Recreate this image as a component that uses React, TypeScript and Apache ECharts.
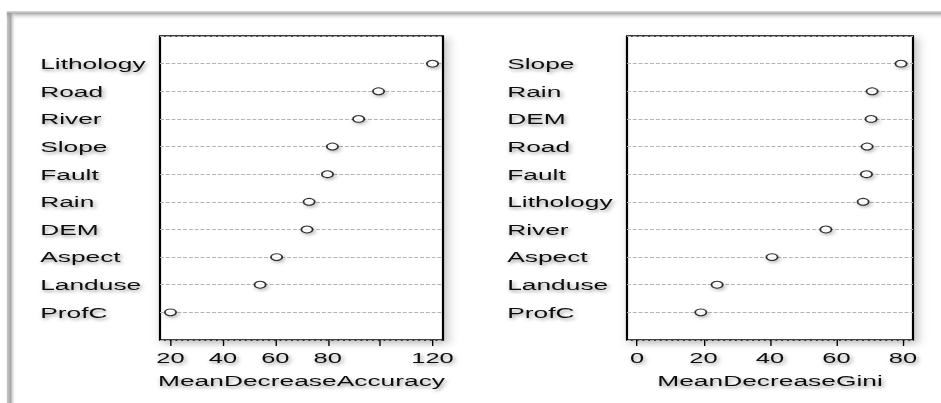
import React, { useEffect, useRef } from "react";
import * as echarts from "echarts";

// Mean decrease accuracy (top to bottom)
const accCategories = ["Lithology", "Road", "River", "Slope", "Fault", "Rain", "DEM", "Aspect", "Landuse", "ProfC"];
const accValues = [120, 99.4, 91.8, 81.8, 79.9, 72.9, 72.1, 60.5, 54.2, 20];
const accTicks = [20, 40, 60, 80, 100, 120];
const accTickLabels = [20, 40, 60, 80, 120];

// Mean decrease Gini (top to bottom)
const giniCategories = ["Slope", "Rain", "DEM", "Road", "Fault", "Lithology", "River", "Aspect", "Landuse", "ProfC"];
const giniValues = [79.4, 70.7, 70.4, 69.2, 69.0, 68.0, 56.8, 40.6, 24.1, 19.2];
const giniTicks = [0, 20, 40, 60, 80];
const giniTickLabels = [0, 20, 40, 60, 80];

const W = 941;
const H = 403;
const S = 1.7; // horizontal stretch of the original picture
const IW = W / S;

const FONT = "'Liberation Sans', Arial, sans-serif";
const shadowText = {
  textShadowColor: "rgba(0,0,0,0.4)",
  textShadowBlur: 3,
  textShadowOffsetX: 1,
  textShadowOffsetY: 2,
};

export default function App() {
  const ref = useRef<HTMLDivElement>(null);
  useEffect(() => {
    if (!ref.current) return;
    const chart = echarts.init(ref.current, null, { renderer: "svg" });
    const n = accCategories.length;
    const yAxisFor = (idx: number, cats: string[]) => ({
      type: "value",
      gridIndex: idx,
      min: 0,
      max: n + 1,
      interval: 1,
      axisLine: { show: false },
      axisTick: { show: false },
      splitLine: {
        show: true,
        lineStyle: { color: "#b4b4b4", width: 1, type: [2.3, 1.1] },
      },
      axisLabel: {
        align: "left",
        margin: 70.5,
        fontSize: 15.5,
        fontFamily: FONT,
        color: "#111",
        ...shadowText,
        formatter: (v: number) => (v >= 1 && v <= n ? cats[n - v] : ""),
      },
    });
    const xAxisFor = (idx: number, min: number, max: number, ticks: number[], labels: number[], name: string) => ({
      type: "value",
      gridIndex: idx,
      min,
      max,
      axisLine: { show: false },
      splitLine: { show: false },
      axisTick: {
        show: true,
        length: 6,
        customValues: ticks,
        lineStyle: { color: "#000", width: 0.8 },
      },
      axisLabel: {
        customValues: labels,
        margin: 10,
        fontSize: 15,
        fontFamily: FONT,
        color: "#111",
        ...shadowText,
      },
      name,
      nameLocation: "middle",
      nameGap: 33,
      nameTextStyle: { fontSize: 15.5, fontFamily: FONT, color: "#111", ...shadowText },
    });
    const gridStyle = {
      show: true,
      top: 36,
      height: 304,
      backgroundColor: "#fff",
      borderColor: "#000",
      borderWidth: 1.3,
      shadowColor: "rgba(0,0,0,0.25)",
      shadowBlur: 6,
      shadowOffsetX: 2,
      shadowOffsetY: 3,
    };
    const scatterFor = (idx: number, vals: number[]) => ({
      type: "scatter",
      xAxisIndex: idx,
      yAxisIndex: idx,
      symbol: "circle",
      symbolSize: [6.6, 6.8],
      itemStyle: {
        color: "#fff",
        borderColor: "#000",
        borderWidth: 1,
        shadowColor: "rgba(0,0,0,0.3)",
        shadowBlur: 3,
        shadowOffsetX: 1,
        shadowOffsetY: 2,
      },
      data: vals.map((v, i) => [v, n - i]),
    });
    chart.setOption({
      animation: false,
      backgroundColor: "#fff",
      grid: [
        { ...gridStyle, left: 160 / S, width: (443 - 160) / S },
        { ...gridStyle, left: 627 / S, width: (913 - 627) / S },
      ],
      xAxis: [
        xAxisFor(0, 16, 124, accTicks, accTickLabels, "MeanDecreaseAccuracy"),
        xAxisFor(1, -3, 83, giniTicks, giniTickLabels, "MeanDecreaseGini"),
      ],
      yAxis: [yAxisFor(0, accCategories), yAxisFor(1, giniCategories)],
      series: [scatterFor(0, accValues), scatterFor(1, giniValues)],
      graphic: [
        {
          type: "rect",
          silent: true,
          shape: { x: 4, y: 11, width: IW, height: 9 },
          style: {
            fill: {
              type: "linear", x: 0, y: 0, x2: 0, y2: 1,
              colorStops: [
                { offset: 0, color: "rgba(150,150,150,0.3)" },
                { offset: 0.25, color: "rgba(150,150,150,0.8)" },
                { offset: 1, color: "rgba(255,255,255,0)" },
              ],
            },
          },
        },
        {
          type: "rect",
          silent: true,
          shape: { x: 4, y: 13, width: 5.5, height: H },
          style: {
            fill: {
              type: "linear", x: 0, y: 0, x2: 1, y2: 0,
              colorStops: [
                { offset: 0, color: "rgba(150,150,150,0.5)" },
                { offset: 0.4, color: "rgba(150,150,150,0.85)" },
                { offset: 1, color: "rgba(255,255,255,0)" },
              ],
            },
          },
        },
      ],
    });
    return () => chart.dispose();
  }, []);
  return (
    <div style={{ position: "fixed", left: 0, top: 0, width: W, height: H, overflow: "hidden", background: "#fff" }}>
      <div
        ref={ref}
        style={{ width: IW, height: H, transform: `scaleX(${S})`, transformOrigin: "0 0" }}
      />
    </div>
  );
}
